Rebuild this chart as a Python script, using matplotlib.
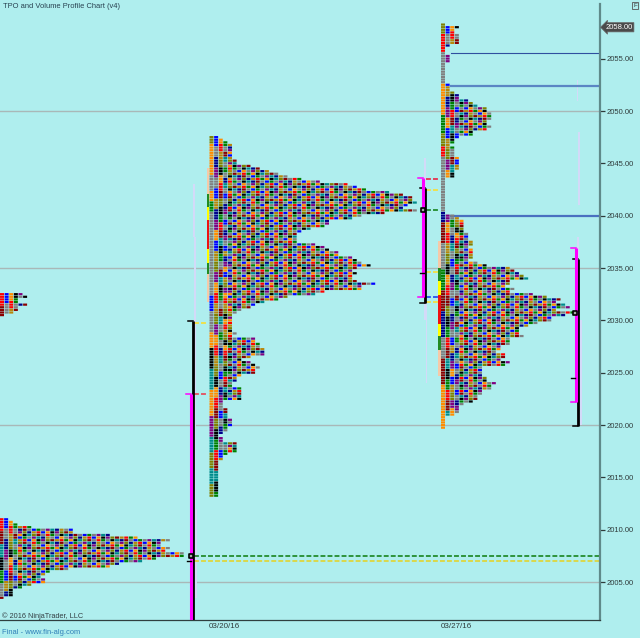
import matplotlib
matplotlib.use('Agg')
import matplotlib.pyplot as plt

plt.rcParams['font.family'] = ['Liberation Sans', 'DejaVu Sans']

BG = '#afeeee'
TICK = 0.25

# TPO letter colours
palette = ['#ff0000', '#0000ff', '#008000', '#ff8c00', '#808080', '#000000',
           '#800080', '#008b8b', '#808000', '#00008b', '#8b0000', '#b8860b',
           '#808080']

# row widths (TPO count per price row), top row first
top_left_top = 2032.5
top_left_rows = [5, 6, 4, 4, 6, 4, 4, 3, 1]

bottom_left_top = 2011.0
bottom_left_rows = [2, 3, 4, 7, 16, 16, 24, 30, 37, 35, 35, 37, 36, 40, 40, 34, 31, 26, 24, 15,
                    11, 10, 9, 10, 10, 7, 5, 3, 3, 3, 1]

mar20_top = 2047.5
mar20_rows = [2, 3, 4, 5, 5, 5, 5, 5, 5, 6, 6, 9, 11, 13, 15, 17, 20, 24, 30, 32,
              34, 39, 42, 44, 44, 45, 43, 42, 45, 38, 33, 31, 26, 26, 25, 22, 20, 19, 19, 19,
              19, 23, 25, 26, 28, 28, 31, 32, 33, 35, 32, 31, 32, 31, 31, 32, 36, 33, 33, 25,
              23, 17, 15, 12, 10, 9, 7, 6, 5, 5, 5, 5, 5, 5,
              5, 6, 5, 10, 10, 11, 11, 12, 12, 12, 9, 7, 9, 10, 11, 10, 10, 7, 6, 6,
              5, 5, 7, 7, 7, 7, 7, 3, 3, 3, 4, 4, 4, 4, 5, 5, 5, 4, 4, 3,
              2, 3, 3, 6, 6, 6, 6, 4, 3, 3, 2, 2, 2, 2, 2, 2, 2, 2, 2, 2, 2, 2, 2, 2]

mar27_top = 2058.25
mar27_rows = [1, 4, 3, 3, 4, 4, 4, 4, 2, 1, 1, 1, 2, 2, 2, 1, 1, 1, 1, 1, 1, 1, 1,
              2, 2, 2, 3, 4, 4, 6, 7, 8, 10, 10, 11, 11, 11, 10, 10, 11, 10, 7, 7, 4, 3, 3, 2,
              3, 3, 3, 3, 4, 4, 4, 4, 4, 3, 3, 3,
              1, 1, 1, 1, 1, 1, 1, 1, 1, 1, 1, 1, 1, 1,
              3, 4, 5, 5, 5, 5, 5, 6, 6, 6, 7, 7, 6, 7, 7, 7, 7, 6, 8, 10,
              15, 16, 17, 18, 19, 15, 15, 14, 16, 15, 20, 23, 26, 25, 27, 28, 25, 29, 27, 24,
              24, 21, 19, 17, 17, 17, 18, 15, 15, 15, 13, 13, 12, 14, 14, 13, 15, 14, 9, 9,
              9, 9, 10, 10, 12, 11, 11, 9, 9, 8, 8, 7, 5, 4, 4, 4, 3, 1, 1, 1, 1, 1]

# first column colour runs (rows, palette index)
mar20_first = [(3, 8), (12, 3), (6, 4), (4, 3), (4, 2), (32, 4), (6, 1), (8, 4), (6, 3),
               (8, 5), (8, 7), (10, 3), (8, 6), (6, 7), (6, 8), (6, 7), (5, 8), (4, 1), (16, 7)]
mar27_first = [(4, 8), (7, 0), (12, 4), (12, 3), (7, 2), (5, 8), (4, 0), (21, 4), (4, 9),
               (8, 10), (10, 4), (8, 2), (8, 10), (10, 9), (8, 4), (10, 10), (6, 3), (15, 3), (8, 8), (5, 10)]

# value area strips beside each profile: (price hi, price lo, colour)
mar20_strip = [(2044.6, 2042.1, '#f5c9a8'), (2042.1, 2040.8, '#228b22'), (2040.8, 2039.6, '#ffff00'),
               (2039.6, 2036.8, '#ee1111'), (2036.8, 2035.5, '#ffff00'), (2035.5, 2034.4, '#228b22'),
               (2034.4, 2031.8, '#f5c9a8')]
mar27_strip = [(2037.6, 2035.0, '#f5c9a8'), (2035.0, 2033.8, '#228b22'), (2033.8, 2032.4, '#ffff00'),
               (2032.4, 2029.7, '#ee1111'), (2029.7, 2028.5, '#ffff00'), (2028.5, 2027.2, '#228b22'),
               (2027.2, 2024.7, '#f5c9a8')]

# range bars: x slot, top/bottom price
magenta_x = [191, 423, 576]
magenta_hi = [2023.0, 2043.6, 2036.9]
magenta_lo = [2001.0, 2032.2, 2022.2]
black_x = [193, 425, 577.5]
black_hi = [2029.9, 2042.6, 2035.85]
black_lo = [2001.0, 2031.7, 2019.9]
poc_x = [191, 423, 575]
poc_price = [2007.5, 2040.5, 2030.75]
mid_x = [188, 421, 572]
mid_price = [2007.0, 2034.5, 2024.5]

# dashed levels: x start, x end, price, colour
dash_x0 = [194, 194, 194, 194, 426, 426, 426, 426, 426, 426]
dash_x1 = [208, 208, 600, 600, 440, 440, 440, 440, 440, 440]
dash_price = [2029.75, 2023.0, 2007.5, 2007.0, 2043.5, 2042.5, 2040.5, 2034.6, 2032.25, 2031.75]
dash_col = ['#ffdd22', '#ee3344', '#0b7a0b', '#e6d21e', '#ee1133', '#ffdd22', '#0b7a0b', '#ffdd22', '#1133ee', '#ffdd22']

# naked levels
level_price = [2055.5, 2052.4, 2040.0]
level_width = [1.0, 2.0, 2.0]
level_col = ['#2f4f9f', '#5b86c4', '#4a70c0']

# whole number lines
grid_price = [2050, 2035, 2020, 2005]
tick_price = [2005, 2010, 2015, 2020, 2025, 2030, 2035, 2040, 2045, 2050, 2055]
date_x = [224, 456]
date_lab = ['03/20/16', '03/27/16']

# faint volume ladders: x slot, price hi, price lo, width
vol_x = [193, 194, 193, 424, 424, 426, 577, 578, 577, 577]
vol_hi = [2043.0, 2038.0, 2012.0, 2045.5, 2037.0, 2030.0, 2053.0, 2048.0, 2038.0, 2030.0]
vol_lo = [2038.0, 2012.0, 2003.5, 2037.0, 2030.0, 2024.0, 2051.0, 2041.0, 2030.0, 2020.0]
vol_w = [2, 2, 4, 2, 3, 1, 1, 2, 2, 5]


def cell_color(row, col, first):
    if col == 0:
        n = 0
        for cnt, idx in first:
            n += cnt
            if row < n:
                return palette[idx]
    # left columns keep the same letter over a few rows, the wide part changes every row
    run = max(1, 5 - col)
    r = row // run
    mix = ((r * 7919 + col * 104729) * 2654435761) >> 16
    return palette[mix % len(palette)]


def draw_profile(ax, x0, top, rows, first):
    lefts, bottoms, cols = [], [], []
    for r, n in enumerate(rows):
        for c in range(n):
            lefts.append(x0 + c * 4.62)
            bottoms.append(top - r * TICK - 0.1)
            cols.append(cell_color(r, c, first))
    bars = ax.bar(lefts, 0.21, width=4.0, bottom=bottoms, color=cols, align='edge', linewidth=0, zorder=3)
    for b in bars:
        b.set_snap(False)


fig = plt.figure(figsize=(6.4, 6.38), dpi=100, facecolor=BG)
ax = fig.add_axes([0, 18 / 638, 600 / 640, 616 / 638], facecolor=BG)
ax.set_xlim(0, 600)
ax.set_ylim(2050 - 509 / 10.47, 2050 + 107 / 10.47)

for p in grid_price:
    ax.axhline(p, color='#a9b8b8', lw=1.0, zorder=1)

for x, hi, lo, w in zip(vol_x, vol_hi, vol_lo, vol_w):
    ax.bar(x, hi - lo, width=w, bottom=lo, align='edge', color='#d3daf8', linewidth=0, zorder=1.5)

draw_profile(ax, 0, top_left_top, top_left_rows, [])
draw_profile(ax, -0.5, bottom_left_top, bottom_left_rows, [])
draw_profile(ax, 209.5, mar20_top, mar20_rows, mar20_first)
draw_profile(ax, 441, mar27_top, mar27_rows, mar27_first)

for hi, lo, c in mar20_strip:
    ax.bar(206.8, hi - lo, width=2.4, bottom=lo, align='edge', color=c, linewidth=0, zorder=3)
for hi, lo, c in mar27_strip:
    ax.bar(438, hi - lo, width=2.6, bottom=lo, align='edge', color=c, linewidth=0, zorder=3)

for x, hi, lo in zip(black_x, black_hi, black_lo):
    ax.plot([x, x], [lo, hi], color='black', lw=2.0, solid_capstyle='butt', zorder=4)
    ax.plot([x - 5, x], [hi, hi], color='black', lw=1.1, zorder=4)
    if lo > ax.get_ylim()[0]:
        ax.plot([x - 5, x], [lo, lo], color='black', lw=1.1, zorder=4)
for x, hi, lo in zip(magenta_x, magenta_hi, magenta_lo):
    ax.plot([x, x], [lo, hi], color='#ff00ff', lw=2.2, solid_capstyle='butt', zorder=5)
    ax.plot([x - 5, x], [hi, hi], color='#ff00ff', lw=1.1, zorder=5)
    if lo > ax.get_ylim()[0]:
        ax.plot([x - 5, x], [lo, lo], color='#ff00ff', lw=1.1, zorder=5)

ax.scatter(poc_x, poc_price, marker='s', s=10, facecolor='#aaaaaa', edgecolor='black', linewidth=1.2, zorder=6)
for x, p in zip(mid_x, mid_price):
    ax.plot([x - 1, x + 3], [p, p], color='black', lw=1.0, zorder=6)

for x0, x1, p, c in zip(dash_x0, dash_x1, dash_price, dash_col):
    ax.plot([x0, x1], [p, p], color=c, lw=1.1, dashes=(3.2, 1.4), zorder=2)

for p, w, c in zip(level_price, level_width, level_col):
    ax.plot([451, 600], [p, p], color=c, lw=w * 0.8, zorder=2)

for s in ['top', 'left']:
    ax.spines[s].set_visible(False)
ax.spines['right'].set_color('#5f8a8a')
ax.spines['right'].set_linewidth(1.6)
ax.spines['bottom'].set_color('#2f3f3f')
ax.spines['bottom'].set_linewidth(0.9)
ax.yaxis.tick_right()
ax.set_yticks(tick_price)
ax.set_yticklabels(['%.2f' % p for p in tick_price], fontsize=5.5, color='#2f3b3b')
ax.tick_params(axis='y', length=3.5, width=0.9, color='#2f3b3b', pad=1)
ax.set_xticks(date_x)
ax.set_xticklabels(date_lab, fontsize=5.8, color='#2f3b3b')
ax.tick_params(axis='x', length=0, pad=2.5)

ax.text(605.5, 2058, '2058.00', fontsize=5.5, color='white', va='center', ha='left', clip_on=False,
        bbox=dict(boxstyle='larrow,pad=0.15', fc='#4a4a4a', ec='#6a6a6a', lw=0.5), zorder=7)

fig.text(3 / 640, 1 - 7 / 638, 'TPO and Volume Profile Chart (v4)', fontsize=5.4, color='#27404f', va='center')
fig.text(2 / 640, 1 - 616 / 638, '\u00a9 2016 NinjaTrader, LLC', fontsize=5.3, color='#333f44', va='center')
fig.text(2 / 640, 1 - 633 / 638, 'Final - www.fin-alg.com', fontsize=5.4, color='#2f7fb8', va='center')
fig.text(635 / 640, 1 - 5.5 / 638, 'F', fontsize=4.5, color='#333333', va='center', ha='center',
         bbox=dict(boxstyle='square,pad=0.2', fc=BG, ec='#555555', lw=0.6))

fig.savefig('out.png', dpi=100, facecolor=BG)
